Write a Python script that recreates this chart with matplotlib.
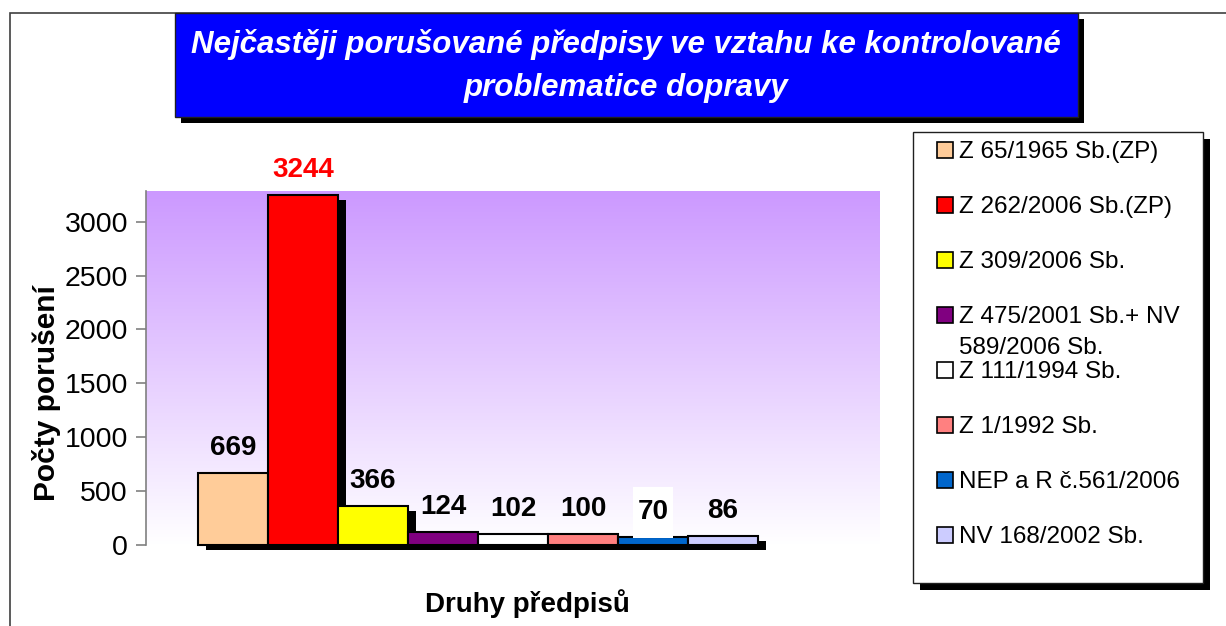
import matplotlib
matplotlib.use("Agg")
import numpy as np
import matplotlib.pyplot as plt
import matplotlib.patheffects as pe
from matplotlib.patches import Rectangle
from matplotlib.path import Path

plt.rcParams['font.family'] = ['Liberation Sans', 'DejaVu Sans']

# data
labels = ['Z 65/1965 Sb.(ZP)', 'Z 262/2006 Sb.(ZP)', 'Z 309/2006 Sb.',
          'Z 475/2001 Sb.+ NV\n589/2006 Sb.', 'Z 111/1994 Sb.', 'Z 1/1992 Sb.',
          'NEP a R č.561/2006', 'NV 168/2002 Sb.']
values = [669, 3244, 366, 124, 102, 100, 70, 86]
colors = ['#ffcc99', '#ff0000', '#ffff00', '#800080', '#ffffff', '#ff8080',
          '#0066cc', '#ccccff']
yticks = [0, 500, 1000, 1500, 2000, 2500, 3000]

W, H = 1226, 626
fig = plt.figure(figsize=(W / 100, H / 100), dpi=100)


def fx(px):
    return px / W


def fy(py):
    return 1 - py / H


# outer frame (only left and top edge visible)
fig.patches.append(Rectangle((fx(10), -0.1), 1.2, fy(13) + 0.1, transform=fig.transFigure,
                             fill=False, ec='#404040', lw=1.2))

# title box with shadow
fig.patches.append(Rectangle((fx(181), fy(123)), fx(1084) - fx(181), fy(19) - fy(123),
                             transform=fig.transFigure, fc='black', ec='none'))
fig.patches.append(Rectangle((fx(175), fy(117)), fx(1078) - fx(175), fy(13) - fy(117),
                             transform=fig.transFigure, fc='#0000ff', ec='#202020', lw=1))
fig.text(fx(626), fy(45), 'Nejčastěji porušované předpisy ve vztahu ke kontrolované',
         ha='center', va='center', color='white', fontsize=22.5, fontweight='bold',
         fontstyle='italic')
fig.text(fx(626), fy(88), 'problematice dopravy', ha='center', va='center',
         color='white', fontsize=22.5, fontweight='bold', fontstyle='italic')

# plot area
ax = fig.add_axes([fx(146), fy(545), fx(880) - fx(146), fy(191) - fy(545)])
grad = np.linspace(0, 1, 256).reshape(-1, 1)
top = np.array([204, 153, 255]) / 255
rgb = top[None, None, :] * (1 - grad[:, :, None]) + np.ones(3)[None, None, :] * grad[:, :, None]
ax.imshow(rgb, extent=[0, 1, 0, 1], transform=ax.transAxes, aspect='auto', zorder=0)

x = np.arange(len(values))
shadow = [pe.SimplePatchShadow(offset=(6, -3.6), shadow_rgbFace='black', alpha=1.0),
          pe.Normal()]
bars = ax.bar(x, values, width=1.0, color=colors, edgecolor='black', linewidth=1.5,
              zorder=2, clip_on=False)
for b in bars:
    b.set_path_effects(shadow)

ax.set_xlim(-1.243, 9.243)
ax.set_ylim(0, 3285)
ax.set_yticks(yticks)
ax.set_xticks([])
for s in ['top', 'right', 'bottom']:
    ax.spines[s].set_visible(False)
ax.spines['left'].set_color('#808080')
ax.spines['left'].set_linewidth(1.2)
ax.tick_params(axis='y', length=7, width=1.2, color='#808080', labelsize=20.5, pad=6)

ax.set_ylabel('Počty porušení', fontsize=21.5, fontweight='bold')
ax.yaxis.set_label_coords(-0.116, 0.43)


def label_box(x0, y0, width, height, mutation_size):
    l, r, t, b = 4, 5, 12, 13
    xa, xb = x0 - l, x0 + width + r
    ya, yb = y0 - b, y0 + height + t
    return Path([(xa, ya), (xb, ya), (xb, yb), (xa, yb), (xa, ya)], closed=True)


for i, v in enumerate(values):
    kw = dict(ha='center', va='baseline', fontsize=20, fontweight='bold',
              textcoords='offset points', xytext=(0, 13), zorder=5)
    if v == 3244:
        kw['color'] = '#ff0000'
    if v == 70:
        kw['bbox'] = dict(boxstyle=label_box, fc='white', ec='none')
    ax.annotate(str(v), (x[i], v), **kw)

fig.text(fx(527), fy(604), 'Druhy předpisů', ha='center', va='center',
         fontsize=20, fontweight='bold')

# legend box with shadow
fig.patches.append(Rectangle((fx(920), fy(590)), fx(1210) - fx(920), fy(139) - fy(590),
                             transform=fig.transFigure, fc='black', ec='none'))
fig.patches.append(Rectangle((fx(913), fy(583)), fx(1203) - fx(913), fy(132) - fy(583),
                             transform=fig.transFigure, fc='white', ec='#202020', lw=1))
for i, (lab, c) in enumerate(zip(labels, colors)):
    cy = 150 + 55 * i
    fig.patches.append(Rectangle((fx(937), fy(cy + 8)), fx(16), 16 / H,
                                 transform=fig.transFigure, fc=c, ec='black', lw=1.2))
    for k, line in enumerate(lab.split('\n')):
        fig.text(fx(959), fy(cy + 8 + 31 * k), line, ha='left', va='baseline',
                 fontsize=17.5)

fig.savefig('out.png', dpi=100)
